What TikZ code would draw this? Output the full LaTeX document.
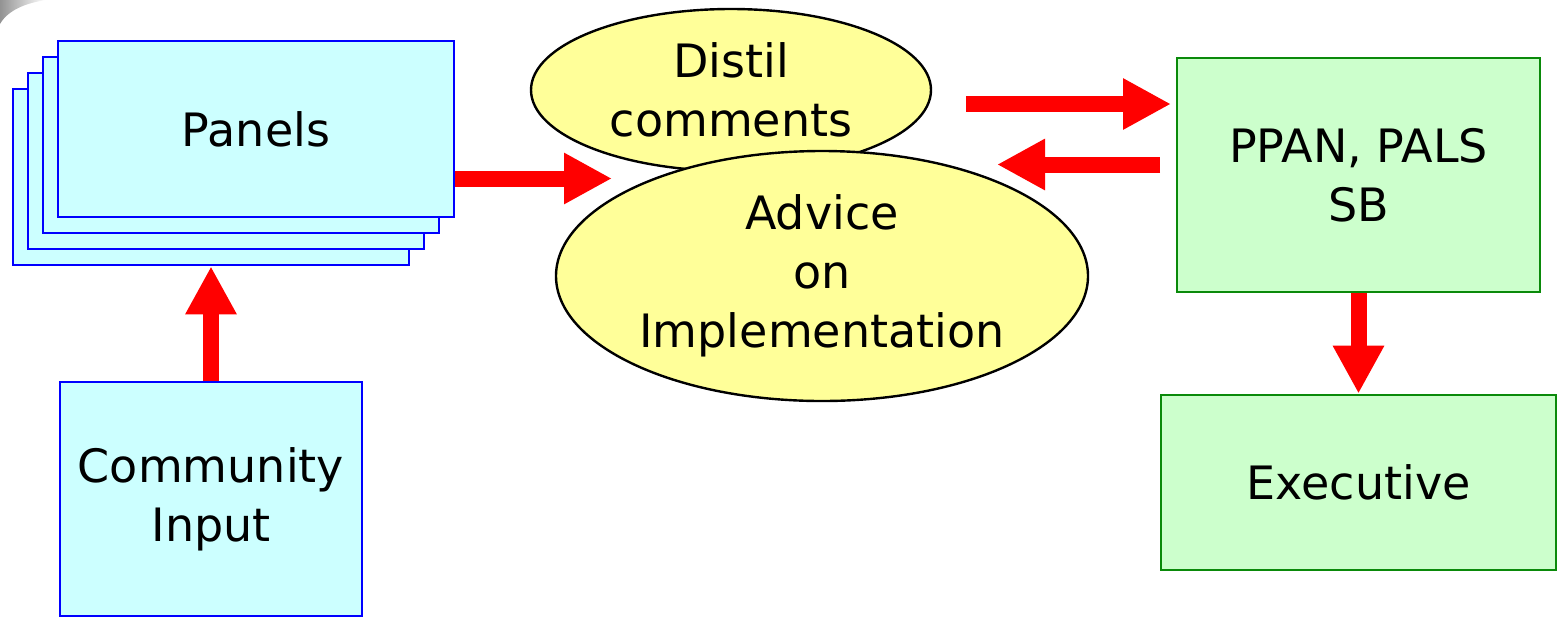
\documentclass[tikz,border=0pt]{standalone}
\usepackage{fontspec}
\setmainfont{DejaVu Sans}
\usetikzlibrary{shapes.geometric,arrows.meta}

\definecolor{panelfill}{HTML}{CCFFFF}
\definecolor{panelline}{HTML}{0000FF}
\definecolor{ovalfill}{HTML}{FFFF99}
\definecolor{boardfill}{HTML}{CCFFCC}
\definecolor{boardline}{HTML}{0A8A0A}
\definecolor{arrowred}{HTML}{FF0000}

\begin{document}
\begin{tikzpicture}[x=0.5pt,y=-0.5pt,
  every node/.style={inner sep=0pt, align=center,
    font=\fontsize{23}{29.5}\selectfont},
  panelbox/.style={draw=panelline, fill=panelfill, line width=1.3pt,
    minimum width=198pt, minimum height=88pt},
  inputbox/.style={draw=panelline, fill=panelfill, line width=1.3pt,
    minimum width=151pt, minimum height=117pt},
  boardbox/.style={draw=boardline, fill=boardfill, line width=1.3pt},
  oval/.style={ellipse, draw=black, fill=ovalfill, line width=1.2pt},
  bigarrow/.style={draw=arrowred, line width=8pt,
    -{Triangle[width=24pt,length=24pt,fill=arrowred]}}
]
\useasboundingbox (0,0) rectangle (1563,617);

% corner swoosh of the slide background
\shade[left color=gray!85, right color=white]
  (0,0) -- (46,0) .. controls (26,3) and (8,10) .. (0,24) -- cycle;

% stack of panels
\node[panelbox] (panel4) at (211,177) {};
\node[panelbox] (panel3) at (226,161) {};
\node[panelbox] (panel2) at (241,145) {};
\node[panelbox] (panels) at (256,129) {Panels};

\node[inputbox] (community) at (211,499) {Community\\Input};

% consultation ovals
\node[oval, minimum width=200pt, minimum height=81pt] (distil) at (731,90)
  {Distil\\comments};
\node[oval, minimum width=266pt, minimum height=125pt] (advice) at (822,276)
  {Advice\\on\\Implementation};

% boards
\node[boardbox, minimum width=181.5pt, minimum height=117pt] (ppan)
  at (1358.5,175) {PPAN, PALS\\SB};
\node[boardbox, minimum width=197.5pt, minimum height=87.5pt] (exec)
  at (1358.5,482.5) {Executive};

% arrow end points
\coordinate (adviceIn) at (612,178.5);
\coordinate (distilOut) at (966,104);
\coordinate (ppanIn) at (1171,104);
\coordinate (ppanOut) at (1160,164.5);
\coordinate (adviceBack) at (997,164.5);

\draw[bigarrow] (community.north) -- (community.north |- panel4.south);
\draw[bigarrow] (panels.east |- adviceIn) -- (adviceIn);
\draw[bigarrow] (distilOut) -- (ppanIn);
\draw[bigarrow] (ppanOut) -- (adviceBack);
\draw[bigarrow] (ppan.south) -- (exec.north);
\end{tikzpicture}
\end{document}
